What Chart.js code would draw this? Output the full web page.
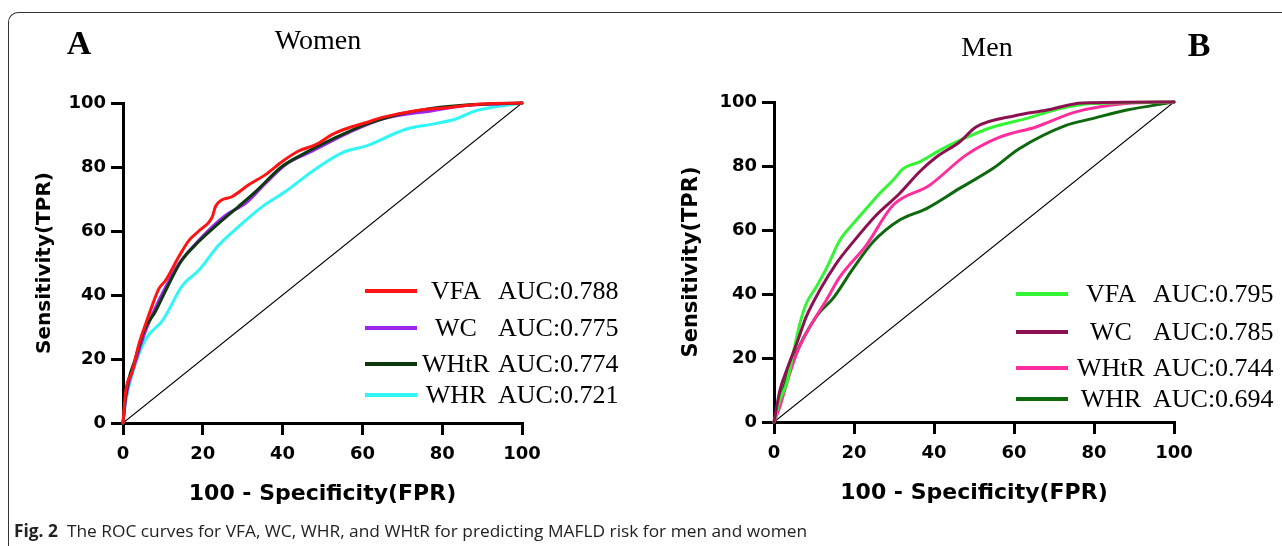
<!DOCTYPE html>
<html><head><meta charset="utf-8">
<script src="https://cdn.jsdelivr.net/npm/chart.js@4/dist/chart.umd.min.js"></script>
<style>
html,body{margin:0;padding:0;background:#fff;width:1282px;height:546px;overflow:hidden;position:relative;}
#frame{position:absolute;left:8px;top:12px;width:1300px;height:560px;border-top:1.5px solid #333;border-left:1.5px solid #333;border-top-left-radius:10px;box-sizing:border-box;}
canvas{position:absolute;top:0;}
.t{position:absolute;transform:translate(-50%,-50%);line-height:1;white-space:nowrap;font-family:"Liberation Serif","Times New Roman",serif;color:#000;}
.l{position:absolute;transform:translate(0,-50%);line-height:1;white-space:nowrap;font-family:"Liberation Serif","Times New Roman",serif;color:#000;}
.sw{position:absolute;height:4px;}
#cap{position:absolute;left:14px;top:530px;transform-origin:0 50%;line-height:1;white-space:nowrap;font-family:"Open Sans","Noto Sans",sans-serif;font-size:17px;color:#222;}
</style>
</head><body>
<div id="frame"></div>
<canvas id="cA" width="641" height="546" style="left:0px"></canvas>
<canvas id="cB" width="641" height="546" style="left:641px"></canvas>
<div class="t" style="left:79px;top:43px;font-size:34px;font-weight:bold;">A</div>
<div class="t" style="left:318px;top:40px;font-size:28px;">Women</div>
<div class="t" style="left:987px;top:47px;font-size:28px;">Men</div>
<div class="t" style="left:1199px;top:45px;font-size:34px;font-weight:bold;">B</div>
<div id="legA"></div><div id="legB"></div>
<div id="cap"><b>Fig. 2</b>&nbsp; The ROC curves for VFA, WC, WHR, and WHtR for predicting MAFLD risk for men and women</div>
<script>
// ---------- data ----------
const seriesNames = ["VFA", "WC", "WHtR", "WHR"];
const aucWomen = ["AUC:0.788", "AUC:0.775", "AUC:0.774", "AUC:0.721"];
const aucMen = ["AUC:0.795", "AUC:0.785", "AUC:0.744", "AUC:0.694"];
const tickValues = [0, 20, 40, 60, 80, 100];
const diagX = [0, 100];
const diagY = [0, 100];

// Women (panel A)
const wVFA_x = [0, 0.7, 2.3, 4, 5.7, 7.4, 9, 10.7, 14, 16.5, 19, 22.4, 23.2, 27.4, 31.6, 35.8, 40, 44, 48.3, 52.5, 56.7, 61, 65, 73.4, 81.8, 90, 100];
const wVFA_y = [0, 10, 16, 24.7, 31, 37, 42, 44.6, 52, 57, 60, 64.5, 67.7, 70.8, 74.5, 77.7, 81.8, 85, 87, 90.2, 92.3, 93.9, 95.5, 97.6, 98.6, 99.7, 100];
const wWC_x = [0, 0.7, 3.2, 5.7, 8.2, 10.7, 14, 19, 25.8, 30.8, 35.8, 40.8, 47.5, 56.7, 65, 77.6, 86, 100];
const wWC_y = [0, 7.9, 19.4, 28.9, 36.2, 42.5, 49.8, 57.1, 65, 68.7, 75, 80.8, 85, 90.8, 95, 97.6, 99.2, 100];
const wWHtR_x = [0, 0.7, 3.2, 5.3, 8.2, 10.7, 14.5, 19, 24, 29, 33.3, 40, 45.8, 52.5, 61, 69.2, 77.6, 86, 100];
const wWHtR_y = [0, 8.9, 20.5, 28.9, 35, 41.4, 50.4, 56.7, 62.4, 67.7, 72.4, 80.3, 84.5, 88.7, 93.4, 96.5, 98.4, 99.4, 100];
const wWHR_x = [0, 0.7, 2.3, 5.7, 9.9, 14.9, 19, 24, 29, 35, 40.8, 47.5, 55, 61, 70.9, 77.6, 83.4, 88.5, 100];
const wWHR_y = [0, 6.8, 15.2, 26.2, 32, 43, 47.7, 55.6, 61.4, 67.7, 72.4, 78.7, 84.5, 86.6, 91.8, 93.4, 95, 97.6, 100];

// Men (panel B)
const mVFA_x = [0, 1.5, 3.2, 4.8, 6.5, 8.1, 10.6, 13.1, 16.5, 19.8, 23.1, 26.4, 29.8, 32.3, 36.4, 41.4, 46.4, 54.7, 63, 71.3, 79.6, 100];
const mVFA_y = [0, 7, 12.2, 21.5, 30.9, 37.1, 42.3, 48, 56.9, 62, 66.7, 71.4, 75.6, 79.2, 81.3, 84.9, 88, 92.2, 94.8, 97.9, 99.5, 100];
const mWC_x = [0, 1.5, 3.2, 5.7, 8.1, 11.5, 15.6, 19.8, 25.6, 31.4, 36.4, 40.6, 46.4, 50.5, 60.5, 68, 77.1, 100];
const mWC_y = [0, 10, 16.3, 24.6, 33, 41.3, 49.6, 56.3, 64.7, 71.4, 78.2, 82.8, 87.5, 92.2, 95.8, 97.4, 99.7, 100];
const mWHtR_x = [0, 1.5, 3.2, 5.7, 9, 13.1, 16.5, 23.1, 29.8, 38.9, 48, 56.4, 65.5, 75.5, 87.9, 100];
const mWHtR_y = [0, 4.9, 12.2, 21.5, 29.8, 38.1, 45.4, 55.3, 67.8, 74, 83.4, 89, 92.2, 96.9, 99.5, 100];
const mWHR_x = [0, 1.5, 4.8, 10.6, 14.8, 19.8, 24.8, 31.4, 38.1, 46.4, 54.7, 61.3, 73, 79.6, 87.9, 100];
const mWHR_y = [0, 7, 19.4, 33, 38.7, 48, 56.3, 63.1, 66.7, 73, 79.2, 85.4, 92.7, 94.8, 97.4, 100];

// ---------- styles ----------
const colorsWomen = ["#ff1414", "#a024f0", "#0c3a0c", "#30f6f6"];
const colorsMen = ["#33f533", "#8c1150", "#ff2e9c", "#0e680e"];

function pts(xs, ys) { return xs.map((x, i) => ({ x: x, y: ys[i] })); }

function makeChart(id, series, colors, geom) {
  const datasets = [{
    data: pts(diagX, diagY), borderColor: "#000", borderWidth: 1.1, order: 10, tension: 0
  }];
  series.forEach((s, i) => {
    datasets.push({
      data: pts(s[0], s[1]), borderColor: colors[i], borderWidth: 3,
      order: geom.order[i], cubicInterpolationMode: "monotone", clip: 4
    });
  });
  const tickFont = { family: "DejaVu Sans", weight: "bold", size: 18 };
  new Chart(document.getElementById(id), {
    type: "line",
    data: { datasets: datasets },
    options: {
      responsive: false, animation: false, devicePixelRatio: 1,
      layout: { padding: { left: 0, right: geom.right, top: geom.top, bottom: geom.bottom } },
      elements: { point: { radius: 0 }, line: { borderCapStyle: "round", borderJoinStyle: "round" } },
      plugins: { legend: { display: false }, tooltip: { enabled: false } },
      scales: {
        x: {
          type: "linear", min: 0, max: 100,
          afterBuildTicks: (s) => { s.ticks = tickValues.map(v => ({ value: v })); },
          afterFit: (s) => { s.height = geom.xh; },
          ticks: { color: "#000", font: tickFont, padding: 9, maxRotation: 0 },
          grid: { drawOnChartArea: false, drawTicks: true, tickLength: 12, color: "#000", lineWidth: 3 },
          border: { display: true, color: "#000", width: 3 },
          title: { display: true, text: "100 - Specificity(FPR)", color: "#000",
            font: { family: "DejaVu Sans", weight: "bold", size: 22 }, padding: { top: 0, bottom: 6 } }
        },
        y: {
          type: "linear", min: 0, max: 100,
          afterBuildTicks: (s) => { s.ticks = tickValues.map(v => ({ value: v })); },
          afterFit: (s) => { s.width = geom.yw; },
          ticks: { color: "#000", font: tickFont, padding: 5 },
          grid: { drawOnChartArea: false, drawTicks: true, tickLength: 12, color: "#000", lineWidth: 3 },
          border: { display: true, color: "#000", width: 3 },
          title: { display: true, text: "Sensitivity(TPR)", color: "#000",
            font: { family: "DejaVu Sans", weight: "bold", size: geom.ytSize }, padding: { top: geom.ytPad, bottom: 0 } }
        }
      }
    }
  });
}

makeChart("cA",
  [[wVFA_x, wVFA_y], [wWC_x, wWC_y], [wWHtR_x, wWHtR_y], [wWHR_x, wWHR_y]],
  colorsWomen,
  { yw: 123, right: 119, top: 103, xh: 90, bottom: 33, ytSize: 20, ytPad: 33, order: [1, 3, 2, 4] });
makeChart("cB",
  [[mVFA_x, mVFA_y], [mWC_x, mWC_y], [mWHtR_x, mWHtR_y], [mWHR_x, mWHR_y]],
  colorsMen,
  { yw: 133, right: 108, top: 102, xh: 90, bottom: 34, ytSize: 21, ytPad: 38, order: [2, 1, 3, 4] });

// ---------- legends (HTML) ----------
function legend(hostId, aucs, colors, g) {
  const host = document.getElementById(hostId);
  seriesNames.forEach((n, i) => {
    const y = g.rows[i];
    const sw = document.createElement("div");
    sw.className = "sw";
    sw.style.cssText = `left:${g.lx0}px;width:${g.lx1 - g.lx0}px;top:${y - 2}px;background:${colors[i]};`;
    host.appendChild(sw);
    const nm = document.createElement("div");
    nm.className = "t"; nm.textContent = n;
    nm.style.cssText = `left:${g.nameC}px;top:${y}px;font-size:26px;`;
    host.appendChild(nm);
    const a = document.createElement("div");
    a.className = "l"; a.textContent = aucs[i];
    a.style.cssText = `left:${g.aucL}px;top:${y}px;font-size:26px;`;
    host.appendChild(a);
  });
}
legend("legA", aucWomen, colorsWomen, { rows: [291, 328, 364, 395], lx0: 365, lx1: 417, nameC: 456, aucL: 498 });
legend("legB", aucMen, colorsMen, { rows: [294, 332, 368, 399], lx0: 1016, lx1: 1068, nameC: 1111, aucL: 1153 });

// caption width fit
const cap = document.getElementById("cap");
const w = cap.getBoundingClientRect().width;
cap.style.transform = `translateY(-50%) scaleX(${793 / w})`;
</script>
</body></html>
